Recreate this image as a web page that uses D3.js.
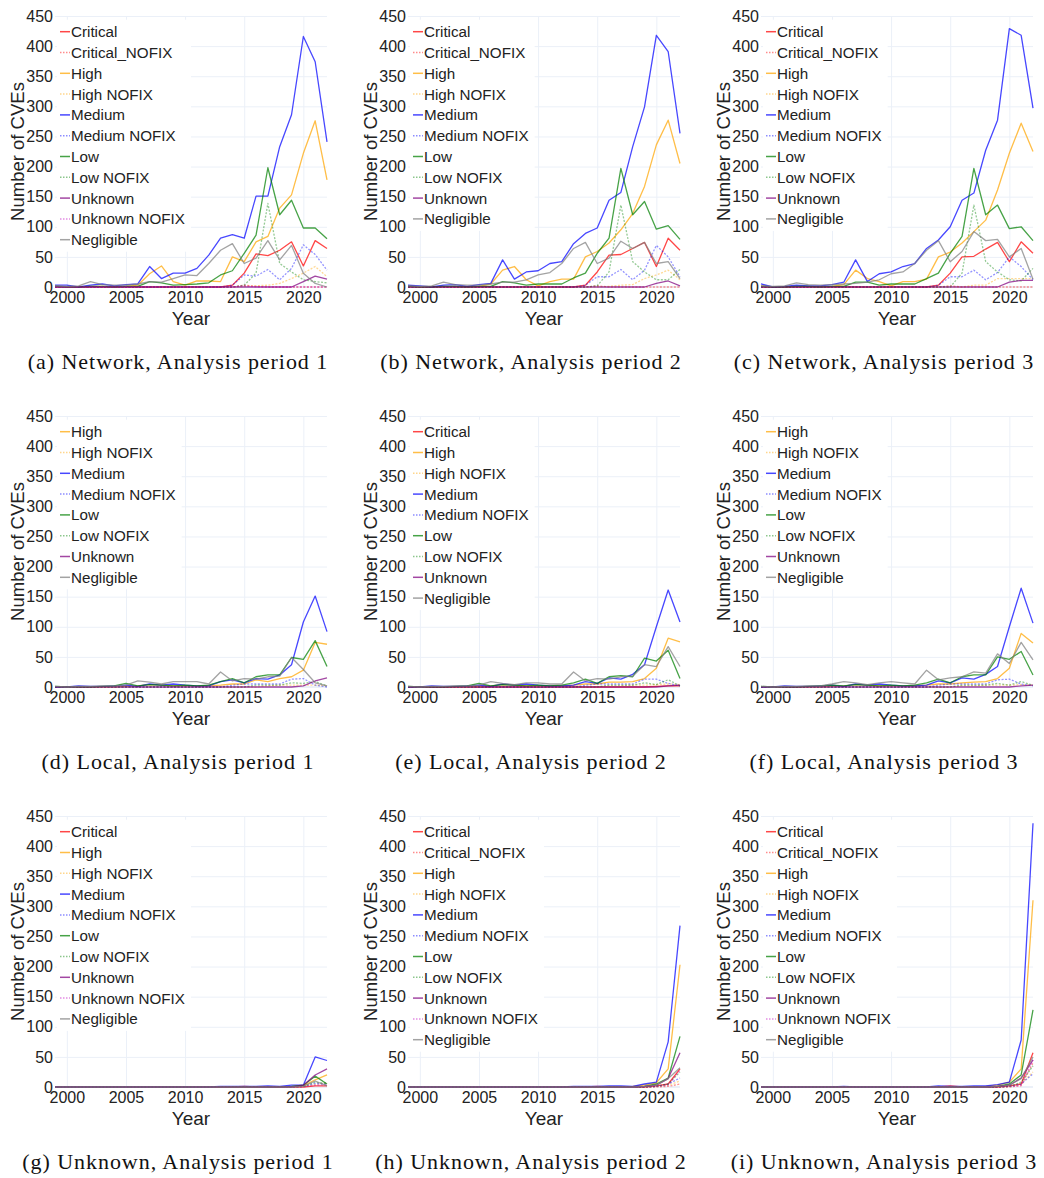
<!DOCTYPE html>
<html>
<head>
<meta charset="utf-8">
<script src="https://cdn.jsdelivr.net/npm/d3@7"></script>
<style>
  body { margin: 0; background: #fff; }
  svg { display: block; }
</style>
</head>
<body>
<div id="root"></div>
<script>
// years on the x axis, 1999 .. 2022
const years = [1999, 2000, 2001, 2002, 2003, 2004, 2005, 2006, 2007, 2008, 2009, 2010,
               2011, 2012, 2013, 2014, 2015, 2016, 2017, 2018, 2019, 2020, 2021, 2022];
const xTicks = [2000, 2005, 2010, 2015, 2020];
const yTicks = [0, 50, 100, 150, 200, 250, 300, 350, 400, 450];

// (a) Network, Analysis period 1
const networkP1 = {
  'Critical':       [0,0,0,0,0,0,0,0,0,0,0,0,0,0,0,3,23,55,52,61,75,35,77,64],
  'Critical_NOFIX': [0,0,0,0,0,0,0,0,0,0,0,0,0,0,0,0,3,1,0,0,0,0,0,0],
  'High':           [2,0,0,1,1,0,1,3,22,35,9,3,10,10,9,50,42,75,84,131,153,222,276,178],
  'High NOFIX':     [0,0,0,0,0,0,0,0,0,0,0,0,0,0,0,0,1,2,3,6,14,23,34,17],
  'Medium':         [3,3,0,3,5,2,4,5,34,14,23,23,31,53,81,87,81,151,151,233,286,416,374,241],
  'Medium NOFIX':   [0,0,0,0,0,0,0,0,0,0,0,0,0,0,0,3,20,18,29,12,31,70,54,28],
  'Low':            [1,0,0,1,1,0,1,1,9,7,3,4,5,7,20,27,56,86,198,120,144,98,98,80],
  'Low NOFIX':      [0,0,0,0,0,0,0,0,0,0,0,0,0,0,0,0,3,23,139,39,25,12,9,7],
  'Unknown':        [0,0,0,0,0,0,0,0,0,0,0,0,0,0,0,0,0,0,0,0,0,9,18,13],
  'Unknown NOFIX':  [0,0,0,0,0,0,0,0,0,0,0,0,0,0,0,0,2,0,0,0,0,0,0,0],
  'Negligible':     [2,1,2,9,4,3,3,5,9,8,14,20,19,39,61,72,39,48,77,45,69,23,6,0]
};

// (b) Network, Analysis period 2
const networkP2 = {
  'Critical':       [0,0,0,0,0,0,0,0,0,0,0,0,0,0,0,3,25,53,54,64,74,34,81,61],
  'Critical_NOFIX': [0,0,0,0,0,0,0,0,0,0,0,0,0,0,0,0,2,0,0,0,0,0,0,0],
  'High':           [2,0,0,1,1,0,1,5,28,34,12,2,9,13,13,50,59,73,95,122,167,236,277,205],
  'High NOFIX':     [0,0,0,0,0,0,0,0,0,0,0,0,0,0,0,0,0,1,3,4,14,20,28,12],
  'Medium':         [3,2,0,3,4,1,4,6,45,13,25,27,39,42,72,89,98,144,157,233,299,418,391,255],
  'Medium NOFIX':   [0,0,0,0,0,0,0,0,0,0,0,0,0,0,0,3,17,17,29,12,28,69,50,17],
  'Low':            [1,0,0,1,1,0,1,1,9,7,3,5,5,5,15,23,56,81,197,120,142,96,102,79],
  'Low NOFIX':      [0,0,0,0,0,0,0,0,0,0,0,0,0,0,0,0,2,25,136,42,25,12,12,29],
  'Unknown':        [0,0,0,0,0,0,0,0,0,0,0,0,0,0,0,0,0,0,0,0,0,6,10,2],
  'Negligible':     [2,1,2,8,4,3,3,5,8,8,12,20,24,39,64,74,39,48,76,64,74,39,42,14]
};

// (c) Network, Analysis period 3
const networkP3 = {
  'Critical':       [0,0,0,0,0,0,0,0,0,0,0,0,0,0,0,3,23,50,51,63,74,42,75,56],
  'Critical_NOFIX': [0,0,0,0,0,0,0,0,0,0,0,0,0,0,0,0,2,0,0,0,0,0,0,0],
  'High':           [2,0,0,1,1,0,1,4,28,14,9,2,9,9,13,50,58,73,92,111,161,222,272,225],
  'High NOFIX':     [0,0,0,0,0,0,0,0,0,0,0,0,0,0,0,0,0,0,3,3,14,14,14,14],
  'Medium':         [5,0,1,3,2,2,4,8,45,9,22,25,34,39,64,78,100,144,156,227,277,429,418,297],
  'Medium NOFIX':   [0,0,0,0,0,0,0,0,0,0,0,0,0,0,0,3,17,17,28,12,24,50,34,12],
  'Low':            [1,0,0,1,1,0,1,1,8,8,3,5,5,5,14,23,56,84,197,120,136,97,100,77],
  'Low NOFIX':      [0,0,0,0,0,0,0,0,0,0,0,0,0,0,0,0,0,23,136,42,25,12,10,31],
  'Unknown':        [0,0,0,0,0,0,0,0,0,0,0,0,0,0,0,0,0,0,0,0,0,8,11,11],
  'Negligible':     [2,1,2,7,4,3,4,5,6,8,12,22,25,39,61,77,42,59,92,77,79,50,64,13]
};

// (d) Local, Analysis period 1
const localP1 = {
  'High':           [0,0,0,0,0,0,1,2,4,3,2,2,2,2,3,5,5,12,9,14,17,28,74,71],
  'High NOFIX':     [0,0,0,0,0,0,0,0,0,0,0,0,0,0,0,0,0,0,2,3,3,3,3,2],
  'Medium':         [0,0,2,1,1,2,3,1,5,3,5,3,2,2,9,12,7,14,13,20,37,108,151,92],
  'Medium NOFIX':   [0,0,0,0,0,0,0,0,0,0,0,0,0,0,0,3,5,5,5,5,13,14,3,0],
  'Low':            [1,0,0,0,1,2,6,2,4,3,2,3,2,3,9,14,7,17,20,20,49,46,77,34],
  'Low NOFIX':      [0,0,0,0,0,0,0,0,0,0,0,0,0,0,0,0,0,3,3,3,7,6,9,2],
  'Unknown':        [0,0,0,0,0,0,0,0,0,0,0,0,0,0,0,0,0,0,0,0,0,2,10,15],
  'Negligible':     [1,0,1,1,2,2,3,10,8,5,9,9,9,5,25,10,14,13,17,18,49,29,7,2]
};

// (e) Local, Analysis period 2
const localP2 = {
  'Critical':       [0,0,0,0,0,0,0,0,0,0,0,0,0,0,0,0,0,0,0,0,0,1,2,2],
  'High':           [0,0,0,0,0,0,1,2,4,3,2,2,2,2,3,5,5,8,8,9,14,31,81,75],
  'High NOFIX':     [0,0,0,0,0,0,0,0,0,0,0,0,0,0,0,0,0,2,2,3,3,4,5,4],
  'Medium':         [0,0,2,1,1,2,3,1,5,3,5,3,2,2,3,9,6,15,13,21,37,100,161,108],
  'Medium NOFIX':   [0,0,0,0,0,0,0,0,0,0,0,0,0,0,0,3,5,5,5,5,13,13,6,2],
  'Low':            [1,0,0,0,1,2,6,2,4,3,2,3,2,3,7,13,6,17,19,17,48,43,61,14],
  'Low NOFIX':      [0,0,0,0,0,0,0,0,0,0,0,0,0,0,0,0,0,3,3,3,7,4,12,2],
  'Unknown':        [0,0,0,0,0,0,0,0,0,0,0,0,0,0,0,0,0,0,0,0,0,0,2,3],
  'Negligible':     [1,0,1,1,2,2,3,9,6,4,7,7,5,5,25,10,14,13,17,18,37,34,67,34]
};

// (f) Local, Analysis period 3
const localP3 = {
  'High':           [0,0,0,0,0,0,1,2,4,3,2,2,2,2,3,5,5,7,8,9,14,31,89,73],
  'High NOFIX':     [0,0,0,0,0,0,0,0,0,0,0,0,0,0,0,0,0,2,2,3,3,3,4,3],
  'Medium':         [0,0,2,1,1,2,3,1,5,3,5,3,2,2,3,10,7,15,13,21,34,100,164,106],
  'Medium NOFIX':   [0,0,0,0,0,0,0,0,0,0,0,0,0,0,0,3,5,5,5,5,12,13,5,2],
  'Low':            [1,0,0,0,1,2,3,2,4,3,2,3,2,3,7,13,7,17,20,20,50,46,59,20],
  'Low NOFIX':      [0,0,0,0,0,0,0,0,0,0,0,0,0,0,0,0,0,3,3,3,6,3,9,3],
  'Unknown':        [0,0,0,0,0,0,0,0,0,0,0,0,0,0,0,0,0,0,0,0,0,0,2,3],
  'Negligible':     [1,0,1,1,2,2,5,9,7,4,7,9,7,5,28,12,15,17,25,23,55,39,74,45]
};

// (g) Unknown, Analysis period 1
const unknownP1 = {
  'Critical':       [0,0,0,0,0,0,0,0,0,0,0,0,0,0,0,0,1,0,0,0,0,0,2,2],
  'High':           [0,0,0,0,0,0,0,0,0,0,0,0,0,0,0,0,0,0,0,0,0,2,12,20],
  'High NOFIX':     [0,0,0,0,0,0,0,0,0,0,0,0,0,0,0,0,0,0,0,0,0,1,4,7],
  'Medium':         [0,0,0,0,0,0,0,0,0,0,0,0,0,0,1,1,1,1,2,1,3,3,50,44],
  'Medium NOFIX':   [0,0,0,0,0,0,0,0,0,0,0,0,0,0,0,0,0,0,0,0,0,1,6,5],
  'Low':            [0,0,0,0,0,0,0,0,0,0,0,0,0,0,0,0,0,0,0,0,1,3,18,5],
  'Low NOFIX':      [0,0,0,0,0,0,0,0,0,0,0,0,0,0,0,0,0,0,0,0,0,1,8,6],
  'Unknown':        [0,0,0,0,0,0,0,0,0,0,0,0,0,0,0,0,0,0,0,0,0,3,20,30],
  'Unknown NOFIX':  [0,0,0,0,0,0,0,0,0,0,0,0,0,0,0,0,0,0,0,0,0,0,3,4],
  'Negligible':     [0,0,0,0,0,0,0,0,0,0,0,0,0,0,0,0,0,0,0,0,0,1,10,2]
};

// (h) Unknown, Analysis period 2
const unknownP2 = {
  'Critical':       [0,0,0,0,0,0,0,0,0,0,0,0,0,0,0,0,1,0,0,0,0,2,5,30],
  'Critical_NOFIX': [0,0,0,0,0,0,0,0,0,0,0,0,0,0,0,0,0,0,0,0,0,0,1,5],
  'High':           [0,0,0,0,0,0,0,0,0,0,0,0,0,0,0,0,0,0,0,1,3,7,30,203],
  'High NOFIX':     [0,0,0,0,0,0,0,0,0,0,0,0,0,0,0,0,0,0,0,0,0,1,3,10],
  'Medium':         [0,0,0,0,0,0,0,0,0,0,0,0,0,0,1,1,1,2,2,1,5,8,75,268],
  'Medium NOFIX':   [0,0,0,0,0,0,0,0,0,0,0,0,0,0,0,0,0,0,0,0,0,1,5,15],
  'Low':            [0,0,0,0,0,0,0,0,0,0,0,0,0,0,0,0,0,0,0,0,1,5,15,84],
  'Low NOFIX':      [0,0,0,0,0,0,0,0,0,0,0,0,0,0,0,0,0,0,0,0,0,1,5,25],
  'Unknown':        [0,0,0,0,0,0,0,0,0,0,0,0,0,0,0,0,0,0,0,0,1,3,14,57],
  'Unknown NOFIX':  [0,0,0,0,0,0,0,0,0,0,0,0,0,0,0,0,0,0,0,0,0,1,3,28],
  'Negligible':     [0,0,0,0,0,0,0,0,0,0,0,0,0,0,0,0,0,0,0,0,1,3,14,32]
};

// (i) Unknown, Analysis period 3
const unknownP3 = {
  'Critical':       [0,0,0,0,0,0,0,0,0,0,0,0,0,0,0,0,2,0,0,0,0,2,5,57],
  'Critical_NOFIX': [0,0,0,0,0,0,0,0,0,0,0,0,0,0,0,0,0,0,0,0,0,0,2,40],
  'High':           [0,0,0,0,0,0,0,0,0,0,0,0,0,0,0,0,0,0,0,1,3,8,30,310],
  'High NOFIX':     [0,0,0,0,0,0,0,0,0,0,0,0,0,0,0,0,0,0,0,0,0,1,5,25],
  'Medium':         [0,0,0,0,0,0,0,1,0,0,0,0,0,0,0,2,1,1,2,2,4,8,78,438],
  'Medium NOFIX':   [0,0,0,0,0,0,0,0,0,0,0,0,0,0,0,0,0,0,0,0,0,1,5,22],
  'Low':            [0,0,0,0,0,0,0,0,0,0,0,0,0,0,0,0,0,0,0,0,1,5,20,128],
  'Low NOFIX':      [0,0,0,0,0,0,0,0,0,0,0,0,0,0,0,0,0,0,0,0,0,1,8,35],
  'Unknown':        [0,0,0,0,0,0,0,0,0,0,0,0,0,0,0,0,0,0,0,0,1,3,15,45],
  'Unknown NOFIX':  [0,0,0,0,0,0,0,0,0,0,0,0,0,0,0,0,0,0,0,0,0,1,3,45],
  'Negligible':     [0,0,0,0,0,0,0,0,0,0,0,0,0,0,0,0,0,0,0,0,1,3,14,50]
};

const panels = [
  { caption: '(a) Network, Analysis period 1', data: networkP1 },
  { caption: '(b) Network, Analysis period 2', data: networkP2 },
  { caption: '(c) Network, Analysis period 3', data: networkP3 },
  { caption: '(d) Local, Analysis period 1',   data: localP1 },
  { caption: '(e) Local, Analysis period 2',   data: localP2 },
  { caption: '(f) Local, Analysis period 3',   data: localP3 },
  { caption: '(g) Unknown, Analysis period 1', data: unknownP1 },
  { caption: '(h) Unknown, Analysis period 2', data: unknownP2 },
  { caption: '(i) Unknown, Analysis period 3', data: unknownP3 }
];

// line colour per severity, NOFIX variants are dotted
const seriesColor = {
  'Critical': '#ff0000', 'Critical_NOFIX': '#ff0000',
  'High': '#ffa500', 'High NOFIX': '#ffa500',
  'Medium': '#0000ff', 'Medium NOFIX': '#0000ff',
  'Low': '#008000', 'Low NOFIX': '#008000',
  'Unknown': '#800080', 'Unknown NOFIX': '#c000c0',
  'Negligible': '#808080'
};
const isDotted = (name) => name.indexOf('NOFIX') > -1;

const sansFont = "'Liberation Sans', Arial, sans-serif",
    serifFont = "'Liberation Serif', 'Times New Roman', serif",
    textColor = '#222',
    gridColor = '#ebf0f8';

let svg = d3.select('#root')
    .append('svg')
    .attr('width', 1044)
    .attr('height', 1178);

// panel geometry (relative to each panel's origin)
const panelStepX = 353, panelStepY = 400,
    plotLeft = 55, plotRight = 327, plotTop = 16, plotBottom = 287;

panels.forEach((panel, index) => {
    let col = index % 3,
        row = Math.floor(index / 3);

    let g = svg.append('g')
        .attr('transform', `translate(${col * panelStepX},${row * panelStepY})`);

    let x = d3.scaleLinear().domain([1999, 2022]).range([plotLeft, plotRight]),
        y = d3.scaleLinear().domain([0, 450]).range([plotBottom, plotTop]);

    // y axis with horizontal gridlines
    let yAxis = g.append('g')
        .attr('transform', `translate(${plotLeft},0)`)
        .call(d3.axisLeft(y).tickValues(yTicks).tickSize(-(plotRight - plotLeft)).tickPadding(2));
    yAxis.select('.domain').remove();
    yAxis.selectAll('line').attr('stroke', gridColor).attr('stroke-width', 1);
    yAxis.selectAll('text')
        .attr('fill', textColor)
        .style('font-family', sansFont)
        .style('font-size', '16px');

    // x axis with vertical gridlines
    let xAxis = g.append('g')
        .attr('transform', `translate(0,${plotBottom})`)
        .call(d3.axisBottom(x).tickValues(xTicks).tickFormat(d3.format('d'))
            .tickSize(-(plotBottom - plotTop)).tickPadding(5));
    xAxis.select('.domain').remove();
    xAxis.selectAll('line').attr('stroke', gridColor).attr('stroke-width', 1);
    xAxis.selectAll('text')
        .attr('fill', textColor)
        .style('font-family', sansFont)
        .style('font-size', '16px');

    // zero line
    g.append('line')
        .attr('x1', plotLeft).attr('x2', plotRight)
        .attr('y1', y(0)).attr('y2', y(0))
        .attr('stroke', gridColor).attr('stroke-width', 2);

    let names = Object.keys(panel.data);

    let line = d3.line()
        .x((d, i) => x(years[i]))
        .y((d) => y(d));

    g.append('g')
        .selectAll('path')
        .data(names)
        .enter()
        .append('path')
        .attr('d', (name) => line(panel.data[name]))
        .attr('fill', 'none')
        .attr('stroke', (name) => seriesColor[name])
        .attr('stroke-width', 1.3)
        .attr('stroke-opacity', (name) => isDotted(name) ? 0.42 : 0.72)
        .attr('stroke-dasharray', (name) => isDotted(name) ? '2,1.5' : null)
        .attr('stroke-linejoin', 'round');

    // legend, top left inside the plot
    let legend = g.append('g').attr('class', 'legend');
    let legendBox = legend.append('rect')
        .attr('fill', '#fff');

    let rowStart = 31.7, rowStep = 20.8;
    let items = legend.selectAll('.item')
        .data(names)
        .enter()
        .append('g')
        .attr('class', 'item')
        .attr('transform', (d, i) => `translate(0,${rowStart + i * rowStep})`);

    items.append('line')
        .attr('x1', 60).attr('x2', 70)
        .attr('y1', 0).attr('y2', 0)
        .attr('stroke', (name) => seriesColor[name])
        .attr('stroke-width', 1.5)
        .attr('stroke-opacity', (name) => isDotted(name) ? 0.45 : 0.72)
        .attr('stroke-dasharray', (name) => isDotted(name) ? '1.5,1.5' : null);

    items.append('text')
        .attr('x', 71)
        .attr('y', 5.5)
        .attr('fill', textColor)
        .style('font-family', sansFont)
        .style('font-size', '15.2px')
        .text((name) => name);

    let maxTextWidth = d3.max(items.selectAll('text').nodes(), (n) => n.getComputedTextLength());
    legendBox
        .attr('x', 57)
        .attr('y', rowStart - 12)
        .attr('width', 71 + maxTextWidth + 6 - 57)
        .attr('height', (names.length - 1) * rowStep + 24);

    // axis titles
    g.append('text')
        .attr('x', (plotLeft + plotRight) / 2)
        .attr('y', 325)
        .attr('text-anchor', 'middle')
        .attr('fill', textColor)
        .style('font-family', sansFont)
        .style('font-size', '19px')
        .text('Year');

    g.append('text')
        .attr('transform', `translate(24,${(plotTop + plotBottom) / 2}) rotate(-90)`)
        .attr('text-anchor', 'middle')
        .attr('fill', textColor)
        .style('font-family', sansFont)
        .style('font-size', '18.5px')
        .text('Number of CVEs');

    // sub-figure caption
    g.append('text')
        .attr('x', 178)
        .attr('y', 369)
        .attr('text-anchor', 'middle')
        .attr('fill', '#111')
        .style('font-family', serifFont)
        .style('font-size', '22px')
        .style('letter-spacing', '0.95px')
        .text(panel.caption);
});
</script>
</body>
</html>
